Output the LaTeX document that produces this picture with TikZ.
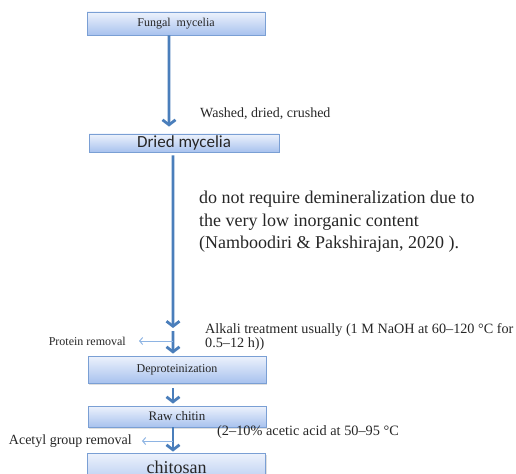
\documentclass[tikz,border=0pt]{standalone}
\usepackage{fontspec}
\setmainfont{Liberation Serif}
\newfontfamily\calibrifont{Carlito}
\usetikzlibrary{arrows.meta,shadows}
\definecolor{arrowblue}{HTML}{4A7EBB}
\definecolor{lightarrow}{HTML}{8EB4E3}
\definecolor{boxborder}{HTML}{7A9FD4}
\definecolor{boxtop}{HTML}{EDF2FC}
\definecolor{boxbot}{HTML}{A8C2EE}
\definecolor{txt}{HTML}{262626}
\begin{document}
\begin{tikzpicture}[x=1bp,y=-1bp,
  procbox/.style={draw=boxborder, line width=0.8bp, top color=boxtop, bottom color=boxbot,
    inner sep=0pt, text=txt,
    drop shadow={shadow xshift=1bp, shadow yshift=-1.5bp, opacity=0.25}},
  mainarrow/.style={draw=arrowblue, line width=2.6bp,
    -{Straight Barb[length=5bp,width=13bp,line width=2.8bp]}},
  sidearrow/.style={draw=lightarrow, line width=1bp,
    -{Straight Barb[length=3bp,width=7bp,line width=1bp]}},
  lbl/.style={inner sep=0pt, text=txt, font=\fontsize{14bp}{16bp}\selectfont},
  boxfont/.style={font=\fontsize{12bp}{14bp}\selectfont}
]
\useasboundingbox (0,0) rectangle (516,474);
\clip (0,0) rectangle (516,474);

% boxes
\node[procbox, boxfont, minimum width=178bp, minimum height=23bp] (fungal) at (176,23.5) {Fungal\ \ mycelia};
\node[procbox, font=\calibrifont\fontsize{17bp}{19bp}\selectfont, minimum width=190bp, minimum height=18bp] (dried) at (184,143) {Dried mycelia};
\node[procbox, boxfont, minimum width=178bp, minimum height=27bp] (deprot) at (177,369.5) {Deproteinization};
\node[procbox, font=\fontsize{13bp}{15bp}\selectfont, minimum width=178bp, minimum height=21bp] (raw) at (177,416.5) {Raw chitin};
\node[procbox, font=\fontsize{18bp}{20bp}\selectfont, minimum width=178bp, minimum height=37bp, text depth=0pt] (chitosan) at (176.5,471.5) {};
\node[inner sep=0pt, text=txt, font=\fontsize{18bp}{20bp}\selectfont, anchor=base] (chitosantext) at (176.5,473) {chitosan};

% labels
\node[lbl, anchor=west] (washed) at (200,114) {Washed, dried, crushed};
\node[lbl, anchor=west, align=left, font=\fontsize{18bp}{22.5bp}\selectfont] (note) at (199,222)
  {do not require demineralization due to\\the very low inorganic content\\(Namboodiri \& Pakshirajan, 2020 ).};
\node[lbl, anchor=west, align=left, font=\fontsize{14.2bp}{12.5bp}\selectfont] (alkali) at (205,337)
  {Alkali treatment usually (1 M NaOH at 60--120 °C for\\0.5--12 h))};
\node[lbl, anchor=east, font=\fontsize{12bp}{14bp}\selectfont] (protein) at (126,341) {Protein removal};
\node[lbl, anchor=east, font=\fontsize{14bp}{16bp}\selectfont] (acetyl) at (132,441) {Acetyl group removal};
\node[lbl, anchor=west, font=\fontsize{14.3bp}{16bp}\selectfont] (acetic) at (217,432) {(2--10\% acetic acid at 50--95 °C};

% main connectors
\coordinate (tip1) at (173,328);
\coordinate (start2) at (173,331);
\coordinate (branch1) at (173,341);
\coordinate (branch2) at (173,441);
\draw[mainarrow, shorten >=7bp] ([xshift=-7bp]fungal.south) -- ([xshift=-15bp]dried.north);
\draw[mainarrow] ([xshift=-11bp,yshift=-3bp]dried.south) -- (tip1);
\draw[mainarrow, shorten >=2bp] (start2) -- ([xshift=-4bp]deprot.north);
\draw[mainarrow, shorten >=2bp] ([xshift=-4bp,yshift=-5bp]deprot.south) -- ([xshift=-4bp]raw.north);
\draw[mainarrow, shorten >=1bp] ([xshift=-4bp]raw.south) -- ([xshift=-3.5bp]chitosan.north);

% side connectors
\draw[sidearrow, shorten >=13bp] (branch1) -- (protein.east);
\draw[sidearrow, shorten >=10bp] (branch2) -- (acetyl.east);
\end{tikzpicture}
\end{document}
